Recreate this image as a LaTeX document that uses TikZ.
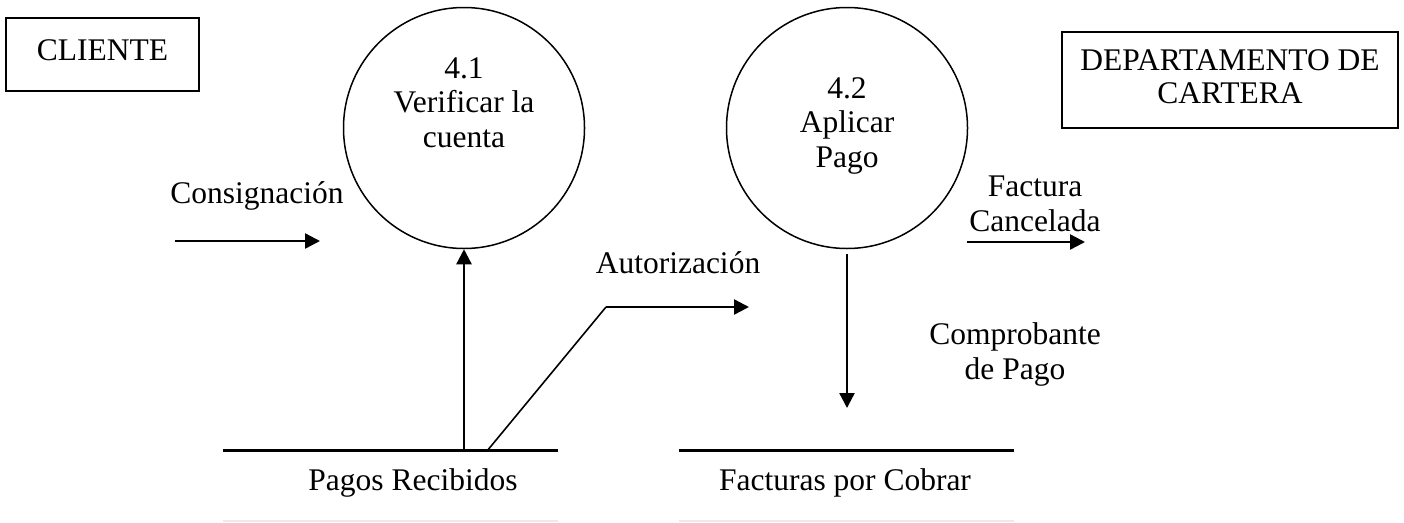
\documentclass[tikz,border=0pt]{standalone}
\usepackage{fontspec}
\setmainfont{Liberation Serif}
\usetikzlibrary{arrows.meta}
\begin{document}
\begin{tikzpicture}[x=1pt,y=-1pt,
  txt/.style={font=\fontsize{31.5}{34.5}\selectfont, inner sep=0pt, align=center, anchor=base},
  entity/.style={draw, line width=2pt, inner sep=0pt, font=\fontsize{31.5}{33}\selectfont, align=center, anchor=base},
  proc/.style={draw, circle, line width=1.5pt, minimum size=241pt, inner sep=0pt},
  flow/.style={line width=2.4pt, -{Triangle[length=15pt,width=15pt]}},
  thinflow/.style={line width=1.6pt},
  storebox/.style={inner sep=0pt, minimum width=335pt, minimum height=70pt},
  storetop/.style={line width=3pt},
  storebottom/.style={line width=2pt, draw=black!8}]
\useasboundingbox (0,0) rectangle (1404,522);
\fill[white] (0,0) rectangle (1404,522);

% external entities
\node[entity, minimum width=193pt, text height=42pt, text depth=31pt] (cli) at (102.5,60) {CLIENTE};
\node[entity, minimum width=336pt, text height=71pt, text depth=25pt] (dep) at (1230,103) {DEPARTAMENTO DE\\CARTERA};

% processes
\node[proc] (p41) at (464,128) {};
\node[txt] (p41t) at (464,147) {4.1\\Verificar la\\cuenta};
\node[proc] (p42) at (847,128) {};
\node[txt] (p42t) at (847,167) {4.2\\Aplicar\\Pago};

% data stores
\node[storebox] (s1) at (390.5,486) {};
\draw[storetop] (s1.north west) -- (s1.north east);
\draw[storebottom] (s1.south west) -- (s1.south east);
\node[txt] (s1t) at (413,490) {Pagos Recibidos};
\node[storebox] (s2) at (846.5,486) {};
\draw[storetop] (s2.north west) -- (s2.north east);
\draw[storebottom] (s2.south west) -- (s2.south east);
\node[txt] (s2t) at (845,490) {Facturas por Cobrar};

% flow labels
\node[txt] (lcons) at (257,203) {Consignación};
\node[txt] (laut) at (678,273) {Autorización};
\node[txt] (lfac) at (1035,231) {Factura\\Cancelada};
\node[txt] (lcomp) at (1015,379) {Comprobante\\de Pago};

% flows
\coordinate (c1) at (175,241);
\coordinate (c2) at (320,241);
\draw[flow] (c1) -- (c2);

\draw[flow] (p41.south |- s1.north) -- (p41.south);

\coordinate (a0) at (487,451);
\coordinate (a1) at (606,307);
\coordinate (a2) at (749,307);
\draw[thinflow] (a0) -- (a1);
\draw[flow] (a1) -- (a2);

\coordinate (d1) at (847,408);
\draw[flow] ([yshift=-5pt]p42.south) -- (d1);

\coordinate (f1) at (967,242);
\coordinate (f2) at (1085,242);
\draw[flow] (f1) -- (f2);
\end{tikzpicture}
\end{document}
